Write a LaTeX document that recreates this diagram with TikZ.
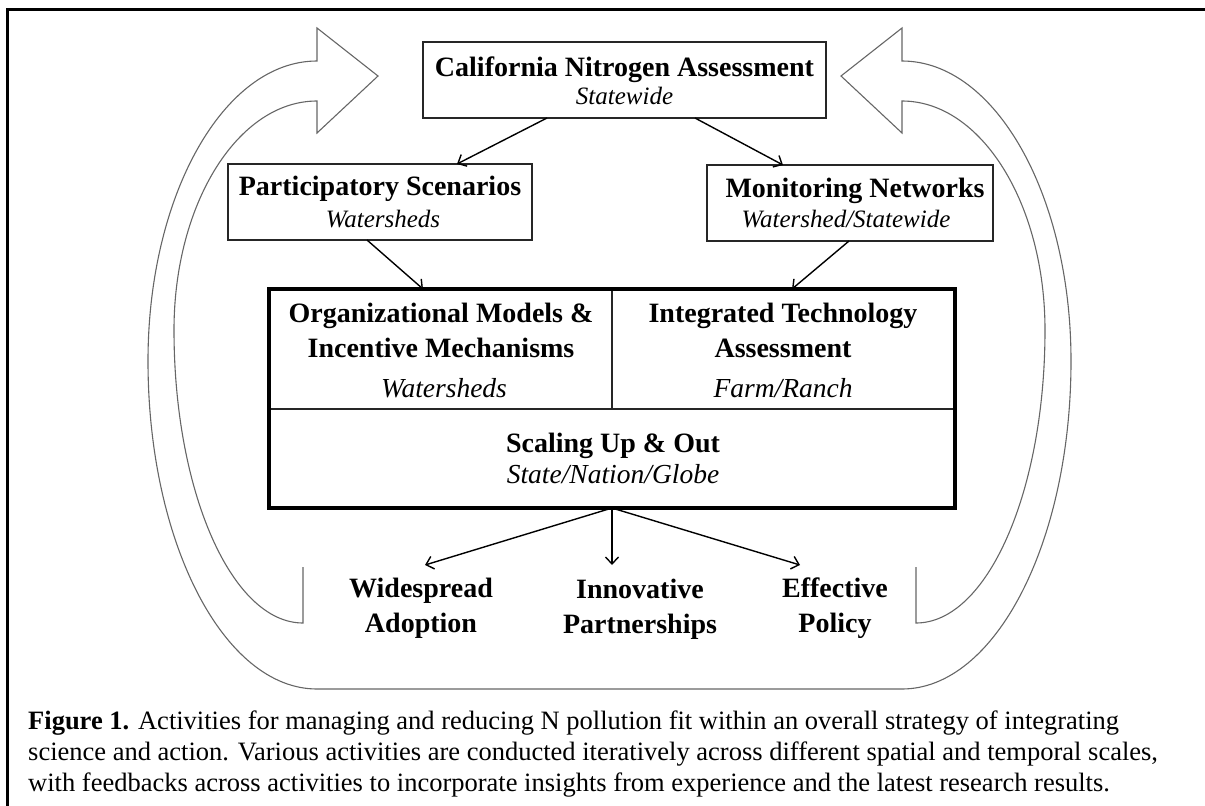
\documentclass[tikz,border=0pt]{standalone}
\usepackage{fontspec}
\setmainfont{Liberation Serif}
\usetikzlibrary{arrows.meta}
\begin{document}
\begin{tikzpicture}[x=1pt,y=-1pt,
  box/.style={draw=black!85, line width=1.3pt, fill=none, inner sep=0pt, outer sep=0pt},
  bigbox/.style={draw=black, line width=3.2pt, inner sep=0pt, outer sep=0pt},
  divider/.style={draw=black!85, line width=1.2pt},
  arr/.style={line width=1.4pt, -{Straight Barb[length=7pt,width=13pt,line width=1.4pt]}},
  loopline/.style={draw=black!60, line width=1.1pt, line join=miter},
  ttl/.style={anchor=base, inner sep=0pt, font=\fontsize{28}{30}\selectfont\bfseries},
  sub/.style={anchor=base, inner sep=0pt, font=\fontsize{25}{28}\selectfont\itshape},
  bsub/.style={anchor=base, inner sep=0pt, font=\fontsize{27.5}{30}\selectfont\itshape},
  outlbl/.style={anchor=north, inner sep=0pt, align=center, font=\fontsize{28}{35}\selectfont\bfseries},
  captxt/.style={anchor=base west, inner sep=0pt, font=\fontsize{26.5}{31}\selectfont}]
\useasboundingbox (0,0) rectangle (1205,806);
% outer frame (only left and top visible)
\draw[line width=3pt] (7,806) -- (7,9) -- (1205,9);

% feedback loop arrows
\draw[loopline] (303,567) -- (303,623)
 .. controls (231.8,623) and (174,491.8) .. (174,330)
 .. controls (174,203.5) and (238,101) .. (317,101)
 -- (317,133) -- (378,76) -- (317,28) -- (317,61)
 .. controls (223.7,61) and (148,195.3) .. (148,361)
 .. controls (148,542.2) and (223.7,689) .. (317,689)
 -- (902,689)
 .. controls (995.3,689) and (1071,542.2) .. (1071,361)
 .. controls (1071,195.3) and (995.3,61) .. (902,61)
 -- (902,28) -- (841,76) -- (902,133) -- (902,101)
 .. controls (981,101) and (1045,203.5) .. (1045,330)
 .. controls (1045,491.8) and (987.2,623) .. (916,623)
 -- (916,567);

% boxes
\node[box, minimum width=403pt, minimum height=76pt] (cna) at (624.5,80) {};
\node[box, minimum width=304pt, minimum height=76pt] (ps) at (380,202) {};
\node[box, minimum width=286pt, minimum height=76pt] (mn) at (850,203) {};
\node[bigbox, minimum width=686pt, minimum height=219pt] (big) at (612,398.5) {};
\coordinate (mid) at (612,409);
\draw[divider] (big.north) -- (mid);
\draw[divider] (big.west |- mid) -- (big.east |- mid);
\draw[bigbox] (big.north west) rectangle (big.south east);

% texts
\node[ttl] (cnaT) at (624.5,76) {California Nitrogen Assessment};
\node[sub] (cnaS) at (624.5,104) {Statewide};
\node[ttl] (psT) at (380,195) {Participatory Scenarios};
\node[sub] (psS) at (383,227) {Watersheds};
\node[ttl] (mnT) at (855,197) {Monitoring Networks};
\node[sub] (mnS) at (846,227) {Watershed/Statewide};
\node[ttl] (omT1) at (441,322) {Organizational Models \&};
\node[ttl] (omT2) at (441,357) {Incentive Mechanisms};
\node[bsub] (omS) at (444,397) {Watersheds};
\node[ttl] (itT1) at (783,322) {Integrated Technology};
\node[ttl] (itT2) at (783,357) {Assessment};
\node[bsub] (itS) at (783,397) {Farm/Ranch};
\node[ttl] (suT) at (613,452) {Scaling Up \& Out};
\node[bsub] (suS) at (613,483) {State/Nation/Globe};

% outcome labels
\node[outlbl] (wa) at (421,578) {Widespread\\Adoption};
\node[outlbl] (ip) at (640,579) {Innovative\\Partnerships};
\node[outlbl] (ep) at (835,578) {Effective\\Policy};

% connectors
\draw[arr] ([xshift=-77.5pt]cna.south) -- ([xshift=77pt]ps.north);
\draw[arr] ([xshift=70.5pt]cna.south) -- ([xshift=-67pt]mn.north);
\draw[arr] ([xshift=-13pt]ps.south) -- ([xshift=-189pt]big.north);
\draw[arr] ([xshift=-1pt]mn.south) -- ([xshift=180pt]big.north);
\draw[arr] (big.south) -- ([xshift=4pt,yshift=13pt]wa.north);
\draw[arr] (big.south) -- ([xshift=-28pt,yshift=14pt]ip.north);
\draw[arr] (big.south) -- ([xshift=-35pt,yshift=13pt]ep.north);

% caption
\node[captxt] (cap1) at (28,729) {\textbf{Figure 1.} Activities for managing and reducing N pollution fit within an overall strategy of integrating};
\node[captxt] (cap2) at (28,760) {science and action. Various activities are conducted iteratively across different spatial and temporal scales,};
\node[captxt] (cap3) at (28,791) {with feedbacks across activities to incorporate insights from experience and the latest research results.};
\end{tikzpicture}
\end{document}
